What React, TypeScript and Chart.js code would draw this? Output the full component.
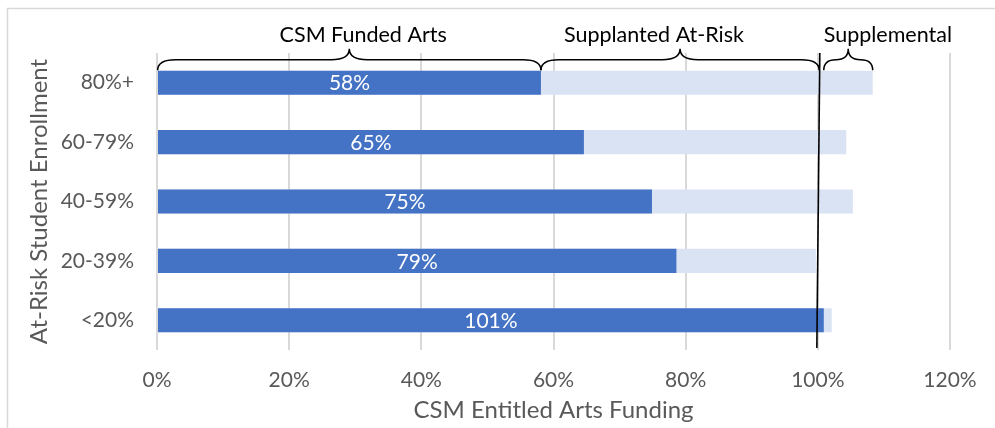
import React, { useEffect, useRef } from "react";
import { Chart, registerables } from "chart.js";

Chart.register(...registerables);

// ---- data ----
const categories = ["80%+", "60-79%", "40-59%", "20-39%", "<20%"];
const fundedShare = [58.1, 64.6, 74.9, 78.6, 100.9];
const totalShare = [108.3, 104.3, 105.3, 99.7, 102.1];
const xTickValues = [0, 20, 40, 60, 80, 100, 120];
const braceLabels = ["CSM Funded Arts", "Supplanted At-Risk", "Supplemental"];
const braceStart = [0.1, 58.1, 100.9];
const braceEnd = [58.1, 100.2, 108.3];
const entitlementTop = 100.3;
const entitlementBottom = 99.85;

// ---- layout / style constants ----
const BRACE_LABEL_X = [31.2, 75.2, 110.6];
const FONT = "Lato, 'Open Sans', sans-serif";
const GREY_TEXT = "#595959";

const annotationPlugin = {
  id: "annotations",
  beforeDraw(chart: any) {
    const ctx = chart.ctx;
    ctx.save();
    ctx.strokeStyle = "#d9d9d9";
    ctx.lineWidth = 1.5;
    ctx.strokeRect(7.5, 8.5, chart.width + 40, chart.height + 40);
    ctx.restore();
  },
  afterDatasetsDraw(chart: any) {
    const ctx = chart.ctx;
    const xs = chart.scales.x;
    const area = chart.chartArea;
    const meta = chart.getDatasetMeta(0);
    ctx.save();
    // bar value labels
    ctx.font = `21px ${FONT}`;
    ctx.fillStyle = "#ffffff";
    ctx.textAlign = "center";
    ctx.textBaseline = "middle";
    meta.data.forEach((el: any, i: number) => {
      const p = el.getProps(["x", "y", "base"], true);
      ctx.fillText(`${Math.round(fundedShare[i])}%`, (p.x + p.base) / 2, p.y + 1);
    });
    // entitlement line
    ctx.strokeStyle = "#000000";
    ctx.lineWidth = 1.6;
    ctx.beginPath();
    ctx.moveTo(xs.getPixelForValue(entitlementTop), area.top);
    ctx.lineTo(xs.getPixelForValue(entitlementBottom), area.bottom - 2);
    ctx.stroke();
    // braces
    const first = meta.data[0].getProps(["y", "height"], true);
    const barTop = first.y - first.height / 2;
    const yEnd = barTop - 0.5;
    const yFlat = barTop - 11;
    const yTip = barTop - 22;
    ctx.lineWidth = 1.5;
    for (let i = 0; i < braceLabels.length; i++) {
      const x0 = xs.getPixelForValue(braceStart[i]);
      const x1 = xs.getPixelForValue(braceEnd[i]);
      const xm = (x0 + x1) / 2;
      const r = Math.min(18, (x1 - x0) / 4);
      ctx.beginPath();
      ctx.moveTo(x0, yEnd);
      ctx.quadraticCurveTo(x0, yFlat, x0 + r, yFlat);
      ctx.lineTo(xm - r, yFlat);
      ctx.quadraticCurveTo(xm, yFlat, xm, yTip);
      ctx.quadraticCurveTo(xm, yFlat, xm + r, yFlat);
      ctx.lineTo(x1 - r, yFlat);
      ctx.quadraticCurveTo(x1, yFlat, x1, yEnd);
      ctx.stroke();
    }
    ctx.fillStyle = "#000000";
    ctx.font = `21.5px ${FONT}`;
    ctx.textBaseline = "alphabetic";
    ctx.textAlign = "center";
    braceLabels.forEach((t, i) => {
      ctx.fillText(t, xs.getPixelForValue(BRACE_LABEL_X[i]), barTop - 29);
    });
    ctx.restore();
  },
};

export default function App() {
  const ref = useRef<HTMLCanvasElement | null>(null);
  useEffect(() => {
    if (!ref.current) return;
    const chart = new Chart(ref.current, {
      type: "bar",
      data: {
        labels: categories,
        datasets: [
          {
            label: "CSM Funded Arts",
            data: fundedShare,
            backgroundColor: "#4472C4",
            grouped: false,
            categoryPercentage: 1,
            barPercentage: 0.405,
          } as any,
          {
            label: "Total",
            data: totalShare,
            backgroundColor: "#DAE3F3",
            grouped: false,
            categoryPercentage: 1,
            barPercentage: 0.405,
          } as any,
        ],
      },
      options: {
        indexAxis: "y",
        responsive: false,
        animation: false,
        layout: { padding: { top: 53, right: 45, left: 0, bottom: 0 } },
        plugins: { legend: { display: false }, tooltip: { enabled: false } },
        scales: {
          x: {
            min: 0,
            max: 120,
            afterFit: (s: any) => {
              s.height = 78;
            },
            afterBuildTicks: (s: any) => {
              s.ticks = xTickValues.map((v) => ({ value: v }));
            },
            grid: { color: "#d9d9d9", lineWidth: 2, drawTicks: false },
            border: { display: false },
            ticks: {
              callback: (v: any) => `${v}%`,
              color: GREY_TEXT,
              font: { family: FONT, size: 21 },
              padding: 17.5,
              maxRotation: 0,
            },
            title: {
              display: true,
              text: "CSM Entitled Arts Funding",
              color: GREY_TEXT,
              font: { family: FONT, size: 24 },
              padding: { top: 0, bottom: 3.6 },
            },
          },
          y: {
            afterFit: (s: any) => {
              s.width = 157;
            },
            grid: { display: false, drawTicks: false },
            border: { display: false },
            ticks: {
              color: GREY_TEXT,
              font: { family: FONT, size: 21 },
              padding: 23,
            },
            title: {
              display: true,
              text: "At-Risk Student Enrollment",
              color: GREY_TEXT,
              font: { family: FONT, size: 24 },
              padding: { top: 24.6, bottom: 0 },
            },
          },
        },
      } as any,
      plugins: [annotationPlugin],
    });
    return () => chart.destroy();
  }, []);
  return (
    <div style={{ position: "absolute", left: 0, top: 0, width: 995, height: 428, background: "#fff" }}>
      <canvas ref={ref} width={995} height={428} style={{ display: "block", width: 995, height: 428 }} />
    </div>
  );
}
